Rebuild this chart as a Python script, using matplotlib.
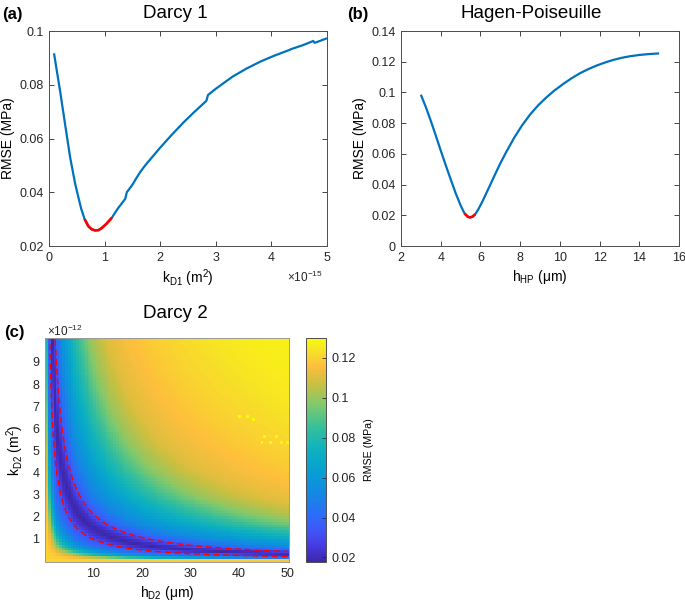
import numpy as np
import matplotlib
matplotlib.use("Agg")
import matplotlib.pyplot as plt
from matplotlib import ticker
from matplotlib.colors import LinearSegmentedColormap

plt.rcParams['font.family'] = ['Liberation Sans', 'DejaVu Sans']
plt.rcParams['mathtext.fontset'] = 'custom'
plt.rcParams['mathtext.rm'] = 'Liberation Sans'
plt.rcParams['mathtext.it'] = 'Liberation Sans:italic'
plt.rcParams['mathtext.default'] = 'regular'

# (a) Darcy 1 -- k in units of 1e-15 m^2
k_d1 = [0.09, 0.15, 0.20, 0.29, 0.38, 0.47, 0.53, 0.58, 0.64, 0.71, 0.77,
        0.83, 0.89, 0.95, 1.03, 1.13, 1.24, 1.37, 1.40, 1.50, 1.57, 1.64,
        1.73, 1.82, 2.00, 2.20, 2.42, 2.62, 2.83, 2.86, 3.00, 3.30, 3.55,
        3.80, 4.05, 4.33, 4.36, 4.55, 4.72, 4.75, 4.78, 5.00]
rmse_d1 = [0.0917, 0.0840, 0.0776, 0.0652, 0.0530, 0.0432, 0.0380, 0.0338,
           0.0300, 0.0273, 0.0262, 0.0258, 0.0259, 0.0267, 0.0282, 0.0305,
           0.0340, 0.0375, 0.0400, 0.0428, 0.0452, 0.0475, 0.0500, 0.0522,
           0.0566, 0.0612, 0.0660, 0.0700, 0.0740, 0.0762, 0.0785, 0.0830,
           0.0860, 0.0886, 0.0908, 0.0930, 0.0933, 0.0946, 0.0960, 0.0963,
           0.0956, 0.0973]
best_d1 = (0.64, 1.13)

# (b) Hagen-Poiseuille -- h in um
h_hp = [3.0, 3.25, 3.5, 3.75, 4.0, 4.25, 4.5, 4.75, 5.0, 5.2, 5.35, 5.47,
        5.6, 5.74, 5.9, 6.1, 6.3, 6.5, 6.75, 7.0, 7.3, 7.7, 8.1, 8.5, 8.9,
        9.3, 9.7, 10.2, 10.6, 11.0, 11.4, 11.85, 12.3, 12.7, 13.1, 13.5,
        14.0, 14.5, 15.0]
rmse_hp = [0.0985, 0.0905, 0.0815, 0.0720, 0.0622, 0.0527, 0.0435, 0.0345,
           0.0265, 0.0212, 0.0192, 0.0186, 0.0191, 0.0207, 0.0240, 0.0290,
           0.0345, 0.0400, 0.0470, 0.0538, 0.0612, 0.0705, 0.0786, 0.0856,
           0.0915, 0.0965, 0.1010, 0.1058, 0.1093, 0.1124, 0.1150, 0.1175,
           0.1196, 0.1212, 0.1225, 0.1235, 0.1244, 0.1250, 0.1254]
best_hp = (5.2, 5.74)

# (c) Darcy 2 -- RMSE read across the valley, as a function of
# (k*h) / (k*h at the valley), k in 1e-12 m^2, h in um
kh_valley = 14.5
kh_ratio = [0.005, 0.03, 0.06, 0.1, 0.15, 0.2, 0.27, 0.35, 0.45, 0.55, 0.67,
            0.8, 1.0, 1.2, 1.45, 1.7, 2.2, 3.0, 4.5, 6.5, 9.0, 14.0, 25.0,
            40.0]
rmse_ratio = [0.121, 0.119, 0.114, 0.105, 0.088, 0.076, 0.064, 0.053,
              0.044, 0.038, 0.032, 0.024, 0.018, 0.022, 0.032, 0.040,
              0.052, 0.064, 0.082, 0.100, 0.111, 0.118, 0.125, 0.129]
h_d2 = np.linspace(0.29, 50.0, 86)
k_d2 = np.linspace(0.01, 10.02, 78)
hot_cells = [(40.2, 6.52), (42.1, 6.52), (42.8, 6.33), (44.9, 5.40),
             (45.6, 5.62), (46.3, 5.30), (47.7, 5.62), (48.7, 5.40),
             (50.0, 5.30)]
hot_value = 0.130
fit_level = 0.032

parula = LinearSegmentedColormap.from_list('parula', [
    (0.00, (0.2422, 0.1504, 0.6603)),
    (0.07, (0.2720, 0.2300, 0.8800)),
    (0.13, (0.2650, 0.3200, 0.9650)),
    (0.20, (0.1800, 0.4150, 0.9800)),
    (0.30, (0.0800, 0.5300, 0.8900)),
    (0.40, (0.0300, 0.6200, 0.8300)),
    (0.50, (0.0500, 0.6950, 0.7500)),
    (0.60, (0.2100, 0.7500, 0.6100)),
    (0.70, (0.4900, 0.7900, 0.4300)),
    (0.80, (0.8000, 0.7500, 0.2500)),
    (0.875, (0.9950, 0.7450, 0.2400)),
    (0.94, (0.9700, 0.8750, 0.1600)),
    (1.00, (0.9763, 0.9831, 0.0538)),
])

W, H = 685, 601
fig = plt.figure(figsize=(W / 100, H / 100), dpi=100)


def rect(x0, y0, x1, y1):
    return [x0 / W, 1 - y1 / H, (x1 - x0) / W, (y1 - y0) / H]


def txt(x, y, s, **kw):
    fig.text(x / W, 1 - y / H, s, **kw)


fmt = ticker.FuncFormatter(lambda v, _: f'{v:g}')
blue = '#0072BD'


def style(ax):
    for sp in ax.spines.values():
        sp.set_color('#4d4d4d')
        sp.set_linewidth(0.7)
    ax.tick_params(direction='in', length=3.5, width=0.6, labelsize=9,
                   colors='#262626', top=True, right=True, pad=4)
    ax.xaxis.set_major_formatter(fmt)
    ax.yaxis.set_major_formatter(fmt)


def curve(ax, x, y, best):
    x = np.asarray(x)
    y = np.asarray(y)
    ax.plot(x, y, color=blue, lw=1.6, solid_capstyle='butt')
    m = (x >= best[0]) & (x <= best[1])
    ax.plot(x[m], y[m], color='red', lw=1.9, solid_capstyle='butt')


# (a)
ax1 = fig.add_axes(rect(49, 31, 327, 246))
curve(ax1, k_d1, rmse_d1, best_d1)
ax1.set_xlim(0, 5)
ax1.set_ylim(0.02, 0.1)
ax1.set_xticks(range(6))
ax1.set_yticks([0.02, 0.04, 0.06, 0.08, 0.1])
style(ax1)
ax1.set_xlabel('k$_{D1}$ (m$^2$)', fontsize=10, labelpad=3)
ax1.set_ylabel('RMSE (MPa)', fontsize=10, labelpad=3)
txt(287, 277, '×10$^{-15}$', fontsize=8.5, va='center', color='#262626')

# (b)
ax2 = fig.add_axes(rect(401, 31, 679, 246))
curve(ax2, h_hp, rmse_hp, best_hp)
ax2.set_xlim(2, 16)
ax2.set_ylim(0, 0.14)
ax2.set_xticks(range(2, 17, 2))
ax2.set_yticks(np.arange(0, 0.141, 0.02))
style(ax2)
ax2.set_xlabel('h$_{HP}$ (μm)', fontsize=10, labelpad=3)
ax2.set_ylabel('RMSE (MPa)', fontsize=10, labelpad=3)

# (c)
ax3 = fig.add_axes(rect(45, 338, 289, 562))
HH, KK = np.meshgrid(h_d2, k_d2)
Z = np.interp(np.log(HH * KK / kh_valley), np.log(kh_ratio), rmse_ratio)
for hc, kc in hot_cells:
    Z[np.abs(k_d2 - kc).argmin(), np.abs(h_d2 - hc).argmin()] = hot_value
dh = h_d2[1] - h_d2[0]
dk = k_d2[1] - k_d2[0]
ext = [h_d2[0] - dh / 2, h_d2[-1] + dh / 2, k_d2[0] - dk / 2, k_d2[-1] + dk / 2]
im = ax3.imshow(Z, origin='lower', extent=ext, aspect='auto', cmap=parula,
                vmin=0.0177, vmax=0.130, interpolation='nearest')
hf = np.linspace(h_d2[0], h_d2[-1], 500)
kf = np.linspace(k_d2[0], k_d2[-1], 500)
HF, KF = np.meshgrid(hf, kf)
ZF = np.interp(np.log(HF * KF / kh_valley), np.log(kh_ratio), rmse_ratio)
ax3.contour(HF, KF, ZF, levels=[fit_level], colors='red', linewidths=1.0,
            linestyles=[(0, (4.5, 2.5))])
ax3.set_xlim(ext[0], ext[1])
ax3.set_ylim(ext[2], ext[3])
ax3.set_xticks([10, 20, 30, 40, 50])
ax3.set_yticks(range(1, 10))
style(ax3)
ax3.tick_params(length=0, top=False, right=False)
for sp in ax3.spines.values():
    sp.set_color('#999999')
ax3.set_xlabel('h$_{D2}$ (μm)', fontsize=10, labelpad=3)
ax3.set_ylabel('k$_{D2}$ (m$^2$)', fontsize=10, labelpad=5)
txt(47, 331, '×10$^{-12}$', fontsize=8.5, va='center', color='#262626')

cax = fig.add_axes(rect(306, 338, 326, 562))
cb = fig.colorbar(im, cax=cax)
cb.set_ticks([0.02, 0.04, 0.06, 0.08, 0.1, 0.12])
cb.ax.yaxis.set_major_formatter(fmt)
cb.ax.tick_params(direction='in', length=3, width=0.6, labelsize=9,
                  colors='#262626', pad=4)
cb.outline.set_edgecolor('#4d4d4d')
cb.outline.set_linewidth(0.7)
cb.set_label('RMSE (MPa)', fontsize=7.7, labelpad=6)

# titles and panel letters
txt(175.5, 13, 'Darcy 1', fontsize=13.5, ha='center', va='center')
txt(531, 13, 'Hagen-Poiseuille', fontsize=13.5, ha='center', va='center')
txt(175.5, 314, 'Darcy 2', fontsize=13.5, ha='center', va='center')
txt(2, 14, '(a)', fontsize=12, fontweight='bold', va='center')
txt(347, 14, '(b)', fontsize=12, fontweight='bold', va='center')
txt(4, 332, '(c)', fontsize=12, fontweight='bold', va='center')

fig.savefig('out.png', dpi=100)
